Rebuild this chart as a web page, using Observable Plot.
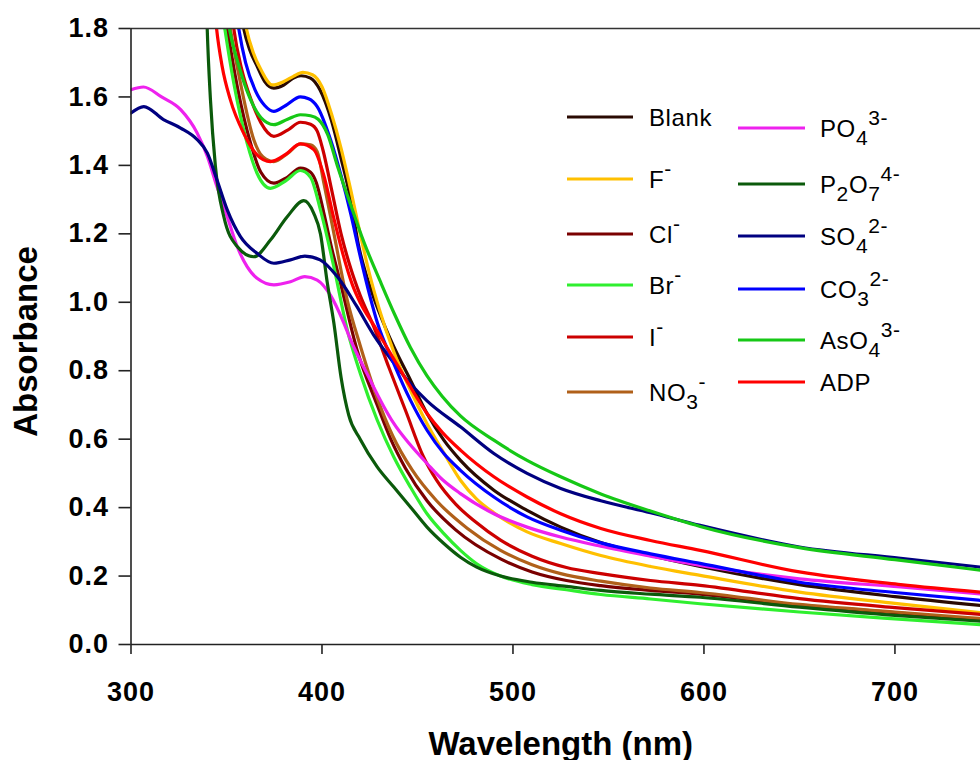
<!DOCTYPE html>
<html><head><meta charset="utf-8">
<script src="https://cdn.jsdelivr.net/npm/d3@7"></script>
<script src="https://cdn.jsdelivr.net/npm/@observablehq/plot@0.6"></script>
<style>
html,body{margin:0;padding:0;background:#fff;}
#chart{position:relative;width:980px;height:760px;}
g[aria-label="y-axis tick label"] text, g[aria-label="x-axis tick label"] text{letter-spacing:1px;}
</style></head><body><div id="chart"></div>
<script>
// ---- data ----
const seriesNames = ["Blank","F-","Cl-","Br-","I-","NO3-","PO43-","P2O74-","SO42-","CO32-","AsO43-","ADP"];
const seriesColors = ["#2a0a02","#ffc000","#7a0000","#2fef2f","#cc0000","#b0601a","#ee22ee","#0b5a0b","#000080","#0000ff","#16c816","#ff0000"];
const xTicks = [300,400,500,600,700];
const yTicks = [0,0.2,0.4,0.6,0.8,1.0,1.2,1.4,1.6,1.8];
const xTitle = "Wavelength (nm)";
const yTitle = "Absorbance";

const blank = [[350,2.3],[355,1.95],[359,1.80],[362,1.74],[366,1.69],[370,1.645],[374.8,1.626],[380,1.635],[385,1.655],[389,1.662],[394,1.655],[399,1.62],[405,1.53],[410,1.42],[415,1.30],[419,1.17],[423.7,1.07],[427,1.015],[430,0.97],[437.6,0.87],[446.3,0.773],[455,0.675],[463.8,0.597],[472.5,0.538],[490,0.451],[507.4,0.392],[525,0.343],[546,0.298],[572,0.26],[598,0.228],[650,0.175],[700,0.14],[745,0.114]];
const fluoride = [[351,2.3],[356,1.96],[360.4,1.80],[364,1.73],[368,1.68],[374,1.635],[380,1.645],[385,1.66],[390,1.672],[395,1.665],[400,1.63],[405,1.55],[410,1.45],[415,1.33],[420,1.20],[425,1.08],[430,0.98],[437.6,0.855],[446.3,0.743],[455,0.645],[463.8,0.56],[472.5,0.48],[481,0.425],[490,0.385],[507.4,0.329],[525,0.295],[546,0.26],[572,0.228],[598,0.202],[650,0.153],[700,0.12],[745,0.093]];
const chloride = [[339,2.3],[345,2.0],[350.4,1.80],[356,1.62],[362.6,1.465],[368,1.38],[374.8,1.348],[382,1.366],[388.7,1.392],[394,1.38],[397,1.35],[401,1.26],[405,1.16],[409.7,1.056],[418.4,0.86],[428.9,0.70],[436,0.60],[443.7,0.515],[455,0.42],[470,0.335],[493.5,0.25],[510,0.212],[528,0.187],[546,0.172],[572,0.158],[598,0.147],[650,0.115],[700,0.093],[745,0.072]];
const bromide = [[338,2.3],[344,2.0],[349.1,1.80],[353.8,1.641],[360.8,1.465],[366,1.377],[373,1.333],[381,1.355],[388.7,1.385],[394,1.365],[399.2,1.27],[406.2,1.104],[413.2,0.92],[420.2,0.79],[428.9,0.656],[437.6,0.548],[446.3,0.46],[455,0.382],[463.8,0.324],[472.5,0.275],[481,0.236],[493.5,0.20],[510,0.175],[528,0.16],[546,0.146],[572,0.133],[598,0.119],[650,0.095],[700,0.075],[745,0.058]];
const iodide = [[346,2.3],[350,2.0],[353.8,1.80],[358,1.68],[363,1.59],[368,1.525],[374.8,1.485],[382,1.503],[388.7,1.526],[394,1.52],[397.5,1.50],[400.5,1.445],[405,1.33],[410,1.20],[415,1.10],[420,1.02],[427,0.93],[435,0.81],[444,0.68],[453,0.55],[460,0.48],[470,0.41],[480,0.36],[493.5,0.305],[510,0.258],[528,0.225],[546,0.207],[572,0.187],[598,0.173],[650,0.134],[700,0.108],[745,0.088]];
const nitrate = [[342,2.3],[347,2.0],[352,1.80],[357.3,1.641],[364.3,1.475],[369,1.425],[374.8,1.411],[382,1.435],[388.7,1.463],[394,1.46],[397.5,1.44],[401,1.348],[406.2,1.202],[413.2,1.007],[420.2,0.87],[428.9,0.72],[437,0.61],[447.2,0.51],[460,0.42],[476,0.34],[493.5,0.275],[510,0.233],[525,0.207],[546,0.185],[572,0.165],[598,0.152],[650,0.117],[700,0.095],[745,0.076]];
const phosphate = [[300,1.621],[306.5,1.629],[316,1.60],[326,1.563],[334.6,1.495],[340,1.426],[345,1.338],[350.4,1.25],[355.6,1.163],[360.8,1.104],[366,1.07],[374.8,1.051],[383.5,1.06],[391,1.075],[397.5,1.065],[404.5,1.02],[411.4,0.94],[415,0.89],[423.7,0.79],[432.4,0.695],[437.6,0.646],[446,0.585],[455,0.529],[463,0.482],[472.5,0.441],[490,0.382],[507.4,0.343],[525,0.314],[546,0.287],[572,0.258],[598,0.231],[650,0.192],[703,0.168],[745,0.148]];
const pyrophosphate = [[336,2.5],[338.5,2.1],[339.9,1.80],[341.6,1.592],[344.2,1.397],[348.6,1.25],[355.6,1.163],[364.3,1.133],[373,1.182],[381.8,1.25],[390.5,1.297],[395.7,1.26],[399.2,1.20],[402.7,1.06],[406.2,0.94],[410,0.78],[414,0.67],[420,0.60],[428.9,0.519],[437.6,0.46],[446.3,0.402],[455,0.343],[463.8,0.295],[472.5,0.255],[481,0.226],[493.5,0.20],[510,0.182],[528,0.17],[546,0.158],[572,0.147],[598,0.138],[650,0.109],[700,0.085],[745,0.068]];
const sulfate = [[300,1.553],[306.7,1.572],[317,1.534],[326,1.509],[334.7,1.475],[340,1.436],[345,1.358],[350.4,1.27],[357.3,1.192],[366,1.143],[374.8,1.114],[383.5,1.124],[391,1.135],[399,1.124],[408,1.075],[418,0.99],[427,0.905],[437.6,0.823],[446,0.764],[455,0.712],[472.5,0.636],[490,0.558],[507.4,0.50],[525,0.456],[546,0.42],[572,0.385],[598,0.348],[650,0.285],[703,0.252],[745,0.226]];
const carbonate = [[348,2.3],[352.5,1.96],[356.4,1.80],[360,1.70],[365,1.62],[370,1.575],[374.8,1.558],[381,1.575],[388.7,1.60],[393,1.595],[397.5,1.572],[404.5,1.475],[410,1.37],[415,1.26],[420,1.135],[425,1.02],[429,0.94],[437.6,0.821],[446.3,0.714],[455,0.626],[463.8,0.558],[472.5,0.509],[490,0.431],[507.4,0.373],[525,0.334],[546,0.297],[572,0.265],[598,0.237],[650,0.182],[700,0.152],[745,0.129]];
const arsenate = [[342,2.3],[347,2.0],[351.5,1.80],[356,1.70],[362,1.60],[368,1.54],[374.8,1.519],[382,1.535],[388.7,1.548],[394,1.545],[398,1.535],[403,1.49],[408,1.40],[415,1.285],[422,1.175],[430.6,1.06],[438,0.965],[446.3,0.868],[455,0.785],[463,0.725],[472.5,0.668],[490,0.597],[507.4,0.538],[525,0.49],[546,0.44],[572,0.39],[598,0.345],[650,0.283],[700,0.248],[745,0.217]];
const adp = [[338,2.3],[342,1.98],[344.8,1.80],[347.7,1.69],[352,1.592],[359,1.494],[366,1.431],[373,1.411],[381,1.432],[388.7,1.463],[395.7,1.446],[401,1.37],[406,1.25],[411,1.14],[416,1.05],[420.2,0.997],[428,0.925],[435.9,0.85],[445,0.765],[455,0.675],[463,0.62],[472.5,0.568],[490,0.49],[507.4,0.431],[525,0.382],[546,0.339],[572,0.304],[598,0.275],[650,0.212],[703,0.175],[745,0.153]];

const seriesData = [blank, fluoride, chloride, bromide, iodide, nitrate, phosphate, pyrophosphate, sulfate, carbonate, arsenate, adp];

// legend label text (with sub/superscript parts)
const legendLabels = [
  [["Blank",""]],
  [["F",""],["-","sup"]],
  [["Cl",""],["-","sup"]],
  [["Br",""],["-","sup"]],
  [["I",""],["-","sup"]],
  [["NO",""],["3","sub"],["-","sup"]],
  [["PO",""],["4","sub"],["3-","sup"]],
  [["P",""],["2","sub"],["O",""],["7","sub"],["4-","sup"]],
  [["SO",""],["4","sub"],["2-","sup"]],
  [["CO",""],["3","sub"],["2-","sup"]],
  [["AsO",""],["4","sub"],["3-","sup"]],
  [["ADP",""]]
];

// ---- layout (not data) ----
const FONT = "'Liberation Sans', Arial, Helvetica, sans-serif";
const legendCols = [{x0:567,x1:633,tx:649},{x0:738,x1:805,tx:820}];
const legendRowY = [[117,179,234,285,337,392],[128,184,236,289,340,382]];

const rows = seriesData.flatMap((pts, i) => pts.map(([nm, A]) => ({series: seriesNames[i], nm, A})));

const chart = Plot.plot({
  width: 980,
  height: 760,
  marginTop: 28,
  marginLeft: 130.5,
  marginRight: 0,
  marginBottom: 116,
  style: {fontFamily: FONT, background: "#fff", color: "#000"},
  x: {domain: [300, 744.8]},
  y: {domain: [0, 1.8]},
  color: {domain: seriesNames, range: seriesColors},
  marks: [
    Plot.line(rows, {x: "nm", y: "A", z: "series", stroke: "series", strokeWidth: 3.2, curve: "monotone-x", clip: true}),
    Plot.ruleY([0], {stroke: "#222", strokeWidth: 1.6}),
    Plot.ruleY([1.8], {stroke: "#333", strokeWidth: 1.6}),
    Plot.ruleX([300], {stroke: "#222", strokeWidth: 1.6}),
    Plot.axisY({ticks: yTicks, tickSize: 12, tickPadding: 10, tickFormat: d3.format(".1f"), fontSize: 27, fontWeight: "bold", label: null, stroke: "#222", strokeWidth: 1.6}),
    Plot.axisX({ticks: xTicks, tickSize: 10, tickPadding: 27, tickFormat: d => String(d), fontSize: 27, fontWeight: "bold", label: null, stroke: "#222", strokeWidth: 1.6}),
    Plot.text([xTitle], {text: d => d, frameAnchor: "bottom", textAnchor: "middle", dx: 5, dy: 110, lineAnchor: "bottom", fontSize: 33, fontWeight: "bold", fill: "#000"}),
    Plot.text([yTitle], {text: d => d, frameAnchor: "left", textAnchor: "middle", dx: -117, dy: 5, rotate: -90, lineAnchor: "top", fontSize: 33, fontWeight: "bold", fill: "#000"})
  ]
});

document.getElementById("chart").appendChild(chart);

// ---- legend ----
const svg = d3.select(chart);
const lg = svg.append("g").attr("font-family", FONT).attr("fill", "#000").attr("text-anchor", "start");
seriesNames.forEach((name, i) => {
  const c = i < 6 ? 0 : 1;
  const r = i < 6 ? i : i - 6;
  const col = legendCols[c];
  const ly = legendRowY[c][r];
  lg.append("line").attr("x1", col.x0).attr("x2", col.x1).attr("y1", ly).attr("y2", ly)
    .attr("stroke", seriesColors[i]).attr("stroke-width", 3.2);
  const t = lg.append("text").attr("x", col.tx).attr("y", ly + 9).attr("font-size", 24)
    .attr("letter-spacing", "0.6px").attr("text-anchor", "start");
  let cur = 0;
  legendLabels[i].forEach(([s, kind]) => {
    const target = kind === "sub" ? 8 : kind === "sup" ? -12 : 0;
    t.append("tspan").attr("dy", target - cur).attr("font-size", kind ? 21 : 24).text(s);
    cur = target;
  });
});
</script></body></html>
